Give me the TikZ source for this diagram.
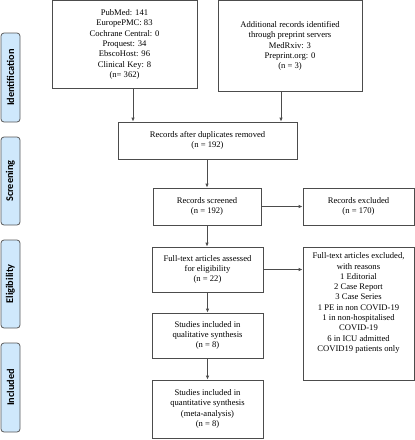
\documentclass[tikz,border=0pt]{standalone}
\usepackage{fontspec}
\setmainfont{Liberation Serif}
\newfontfamily\sidefont{Carlito}
\usetikzlibrary{arrows.meta}
\definecolor{bleuphase}{HTML}{CFE8FC}
\begin{document}
\begin{tikzpicture}[x=1pt,y=-1pt]
		\tikzstyle{boite}=[draw=black!70, line width=0.8pt, align=center, inner sep=0pt, font=\fontsize{8.6}{10.3}\selectfont]
		\tikzstyle{texte}=[align=center, inner sep=0pt, font=\fontsize{8.6}{10.3}\selectfont]
		\tikzstyle{phase}=[draw=black!65, line width=0.8pt, fill=bleuphase, rounded corners=3pt, rotate=90, minimum height=19pt, inner sep=0pt, font=\sidefont\bfseries\fontsize{10.3}{11}\selectfont]
		\tikzstyle{fleche}=[draw=black!70, line width=0.8pt, -{Latex[length=4pt,width=3.5pt]}]
		\useasboundingbox (0,0) rectangle (415,440);
		% phases
		\node[phase, minimum width=89pt] (identif) at (10.5,77.5) {Identification};
		\node[phase, minimum width=88pt] (screen) at (10.5,181) {Screening};
		\node[phase, minimum width=88pt] (elig) at (10.5,284) {Eligibility};
		\node[phase, minimum width=89pt] (incl) at (10.5,387.5) {Included};
		% identification
		\node[boite, minimum width=145pt, minimum height=88pt] (bases) at (124.5,44.5) {PubMed: 141\\EuropePMC: 83\\Cochrane Central: 0\\Proquest: 34\\EbscoHost: 96\\Clinical Key: 8\\(n= 362)};
		\node[boite, minimum width=144pt, minimum height=91pt] (preprint) at (290,46) {Additional records identified\\through preprint servers\\MedRxiv: 3\\Preprint.org: 0\\(n = 3)};
		\node[boite, minimum width=179pt, minimum height=37pt] (doublons) at (207.5,140.5) {Records after duplicates removed\\(n = 192)};
		% screening
		\node[boite, minimum width=108pt, minimum height=37pt] (tries) at (207,206.5) {Records screened\\(n = 192)};
		\node[boite, minimum width=111pt, minimum height=37pt] (exclus) at (358.5,206.5) {Records excluded\\(n = 170)};
		% eligibility
		\node[boite, minimum width=111pt, minimum height=45pt] (complets) at (207.5,269.5) {Full-text articles assessed\\for eligibility\\(n = 22)};
		\node[boite, minimum width=111pt, minimum height=133pt] (raisons) at (358.5,313.5) {};
		\node[texte, anchor=north] (motifs) at ([yshift=-6pt]raisons.north) {Full-text articles excluded,\\with reasons\\1 Editorial\\2 Case Report\\3 Case Series\\1 PE in non COVID-19\\1 in non-hospitalised\\COVID-19\\6 in ICU admitted\\COVID19 patients only};
		% included
		\node[boite, minimum width=111pt, minimum height=45pt] (qualit) at (207.5,335.5) {Studies included in\\qualitative synthesis\\(n = 8)};
		\node[boite, minimum width=111pt, minimum height=58pt] (quantit) at (207.5,409) {Studies included in\\quantitative synthesis\\(meta-analysis)\\(n = 8)};
		% fleches
		\draw[fleche] (133,0 |- bases.south) -- (133,0 |- doublons.north);
		\draw[fleche] (281,0 |- preprint.south) -- (281,0 |- doublons.north);
		\draw[fleche] (tries.north |- doublons.south) -- (tries.north);
		\draw[fleche] (tries.east) -- (exclus.west);
		\draw[fleche] (tries.south) -- (tries.south |- complets.north);
		\draw[fleche] (complets.east) -- (complets.east -| raisons.west);
		\draw[fleche] (complets.south) -- (qualit.north);
		\draw[fleche] (qualit.south) -- (quantit.north);
	\end{tikzpicture}
\end{document}
